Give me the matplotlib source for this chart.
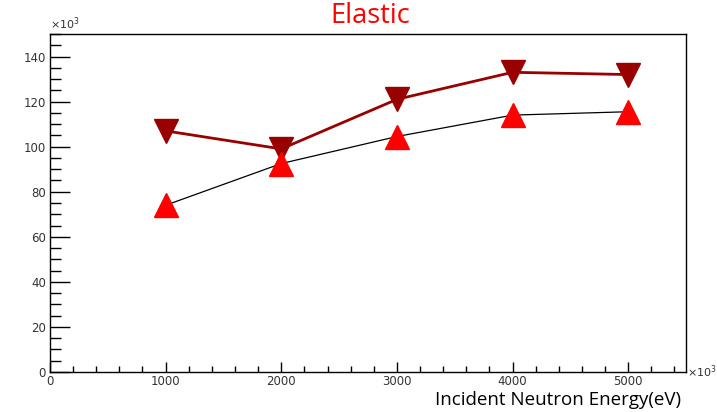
import matplotlib
matplotlib.use('agg')
import matplotlib.pyplot as plt
import matplotlib.ticker as mticker
import numpy as np

# incident neutron energy (eV) and elastic counts for the two samples
energy = [1000e3, 2000e3, 3000e3, 4000e3, 5000e3]
counts_a = [107e3, 99e3, 121e3, 133e3, 132e3]     # dark red, down triangles
counts_b = [74e3, 92.5e3, 104.5e3, 114e3, 115.5e3]  # red up triangles, black line

title = "Elastic"
xlabel = "Incident Neutron Energy(eV)"

fig = plt.figure(figsize=(7.17, 4.12), dpi=100)
ax = fig.add_axes([0.0697, 0.0971, 0.9568 - 0.0697, 0.9175 - 0.0971])

ax.plot(energy, counts_a, color='#990000', lw=2.0, marker='v', ms=17.5,
        mfc='#990000', mec='#990000', zorder=3)
ax.plot(energy, counts_b, color='black', lw=0.9, marker='^', ms=17.5,
        mfc='#ff0000', mec='#ff0000', zorder=4)

ax.set_xlim(0, 5500e3)
ax.set_ylim(0, 150e3)

# axis in units of 10^3, ROOT-style inward ticks
kfmt = mticker.FuncFormatter(lambda v, p: f"{v / 1e3:.0f}")
ax.xaxis.set_major_locator(mticker.MultipleLocator(1000e3))
ax.xaxis.set_minor_locator(mticker.MultipleLocator(200e3))
ax.yaxis.set_major_locator(mticker.MultipleLocator(20e3))
ax.yaxis.set_minor_locator(mticker.MultipleLocator(5e3))
ax.xaxis.set_major_formatter(kfmt)
ax.yaxis.set_major_formatter(kfmt)

ax.tick_params(axis='both', which='both', direction='in', top=False, right=False,
               width=1.0, color='black', labelsize=8.5, labelcolor='#333333')
ax.tick_params(axis='y', which='major', length=14.4, pad=3)
ax.tick_params(axis='y', which='minor', length=7.9)
ax.tick_params(axis='x', which='major', length=7.2, pad=2.5)
ax.tick_params(axis='x', which='minor', length=4.3)

for sp in ax.spines.values():
    sp.set_linewidth(1.0)
    sp.set_color('black')

# exponent markers
ax.text(0.0, 1.005, r"$\times10^3$", transform=ax.transAxes, fontsize=8,
        color='#333333', ha='left', va='bottom')
ax.text(1.002, 0.0, r"$\times10^3$", transform=ax.transAxes, fontsize=8,
        color='#333333', ha='left', va='center')

fig.text(370 / 717, 1 - 16 / 412, title, color='#ff0000', fontsize=19.5,
         family='Open Sans', ha='center', va='center')
fig.text(681 / 717, 1 - 405 / 412, xlabel, color='black', fontsize=13.5,
         family='Open Sans', ha='right', va='baseline')

plt.savefig("out.png", dpi=100)
